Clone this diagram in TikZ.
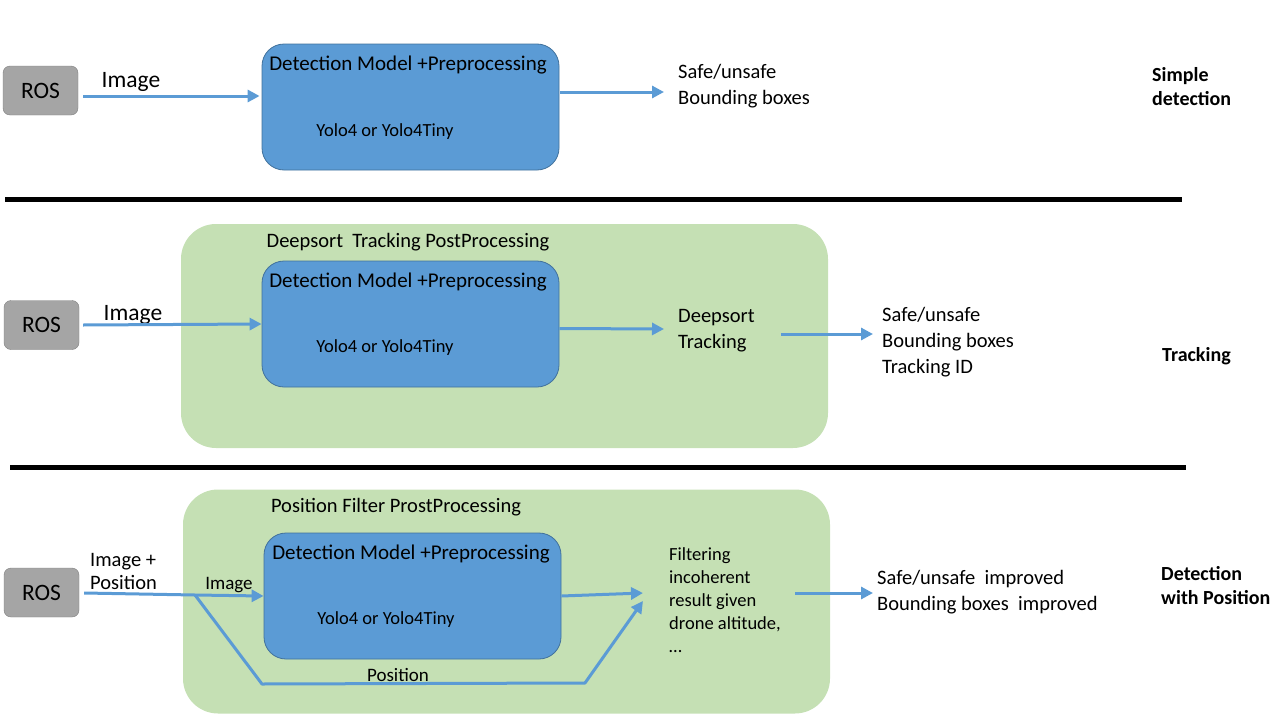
\documentclass[tikz,border=0pt]{standalone}
\usepackage{fontspec}
\setmainfont{Carlito}
\usetikzlibrary{arrows.meta,positioning}
\definecolor{rosgray}{HTML}{A5A5A5}
\definecolor{rosedge}{HTML}{7F7F7F}
\definecolor{detblue}{HTML}{5B9BD5}
\definecolor{detedge}{HTML}{41719C}
\definecolor{postgreen}{HTML}{C5E0B4}

\begin{document}
\begin{tikzpicture}[
        x=1pt, y=-1pt, % 1pt = 1px, y goes down
        >={Triangle[length=12pt,width=12pt]}, % arrow tip
        every node/.style={inner sep=0pt}
      ]
      \tikzstyle{ros}=[draw=rosedge, fill=rosgray, rounded corners=7pt, minimum width=75pt, minimum height=49pt, font=\fontsize{23.5}{26}\selectfont]
      \tikzstyle{model}=[draw=detedge, fill=detblue, line width=0.8pt, rounded corners=22pt, minimum width=297pt, minimum height=126pt]
      \tikzstyle{post}=[fill=postgreen, rounded corners=35pt, minimum width=647pt, minimum height=224pt]
      \tikzstyle{flow}=[->, draw=detblue, line width=3pt]
      \tikzstyle{title}=[font=\fontsize{21}{24}\selectfont]
      \tikzstyle{small}=[font=\fontsize{18.5}{22}\selectfont]
      \tikzstyle{imgtxt}=[font=\fontsize{23.5}{26}\selectfont]
      \tikzstyle{txt}=[font=\fontsize{20.5}{26}\selectfont, align=left, anchor=west]
      \tikzstyle{tag}=[font=\fontsize{20}{24}\selectfont\bfseries, align=left, anchor=west]
      \useasboundingbox (0,0) rectangle (1280,720);
      %% row 1: simple detection
      \node[ros] (ros1) at (40.5,90.5) {ROS};
      \node[model] (det1) at (410.5,107) {};
      \node[title] (det1t) at (408,65.5) {Detection Model +Preprocessing};
      \node[small] (yolo1) at (385,131.5) {Yolo4 or Yolo4Tiny};
      \node[imgtxt] (img1) at (131,81.5) {Image};
      \node[txt] (out1) at (678,86.5) {Safe/unsafe\\Bounding boxes};
      \node[tag] (tag1) at (1152,87) {Simple\\detection};
      \draw[flow] ([shift={(5,5.5)}]ros1.east) -- ([shift={(-2,-11)}]det1.west);
      \draw[flow] ([shift={(1,-15)}]det1.east) -- ([shift={(-14,5.5)}]out1.west);
      \draw[line width=5pt] (5,199) -- (1182,199); % separator
      %% row 2: tracking
      \node[post] (post2) at (504.5,336) {};
      \node[title, font=\fontsize{20.5}{24}\selectfont] (post2t) at (408,242.5) {Deepsort\ \ Tracking PostProcessing};
      \node[model] (det2) at (410.5,324) {};
      \node[title] (det2t) at (408,282.5) {Detection Model +Preprocessing};
      \node[small] (yolo2) at (385,347.5) {Yolo4 or Yolo4Tiny};
      \node[ros] (ros2) at (41.5,325) {ROS};
      \node[imgtxt] (img2) at (133,314.5) {Image};
      \node[txt] (track) at (678,330.5) {Deepsort\\Tracking};
      \node[txt] (out2) at (882,342.5) {Safe/unsafe\\Bounding boxes\\Tracking ID};
      \node[tag] (tag2) at (1162,356) {Tracking};
      \draw[flow] ([xshift=4pt]ros2.east) -- (det2.west);
      \draw[flow] ([yshift=2pt]det2.east |- track.west) -- ([shift={(-14,-1.5)}]track.west);
      \draw[flow] ([shift={(26,3.5)}]track.east) -- ([shift={(-9,-8.5)}]out2.west);
      \draw[line width=5pt] (10,467) -- (1186,467); % separator
      %% row 3: detection with position
      \node[post] (post3) at (506.5,601.5) {};
      \node[title, font=\fontsize{20.5}{24}\selectfont] (post3t) at (396,507.5) {Position Filter ProstProcessing};
      \node[model] (det3) at (412.5,596) {};
      \node[title] (det3t) at (411,554.5) {Detection Model +Preprocessing};
      \node[small] (yolo3) at (386,619.5) {Yolo4 or Yolo4Tiny};
      \node[ros] (ros3) at (41.5,592.5) {ROS};
      \node[font=\fontsize{20.5}{23}\selectfont, align=left, anchor=west] (imgpos) at (90,571) {Image +\\Position};
      \node[font=\fontsize{19}{22}\selectfont] (img3) at (229,585.5) {Image};
      \node[font=\fontsize{19}{22}\selectfont] (pos3) at (398,674.5) {Position};
      \node[font=\fontsize{18.5}{23}\selectfont, align=left, anchor=west] (filt) at (669,600) {Filtering\\incoherent\\result given\\drone altitude,\\\ldots};
      \node[txt] (out3) at (877,592.5) {Safe/unsafe\ \ improved\\Bounding boxes\ \ improved};
      \node[tag] (tag3) at (1161,586) {Detection\\with Position};
      \coordinate (split) at (195,595);
      \coordinate (bend1) at (262,684);
      \coordinate (bend2) at (585,683);
      \draw[detblue, line width=3pt] ([shift={(5,0.5)}]ros3.east) -- (split);
      \draw[flow] (split) -- (det3.west);
      \draw[flow, line join=round] (split) -- (bend1) -- (bend2) -- ([shift={(-26,1)}]filt.west);
      \draw[flow] (det3.east) -- ([shift={(-26,-7)}]filt.west);
      \draw[flow] ([shift={(-82,0.5)}]out3.west) -- ([shift={(-4,0.5)}]out3.west);
\end{tikzpicture}
\end{document}
